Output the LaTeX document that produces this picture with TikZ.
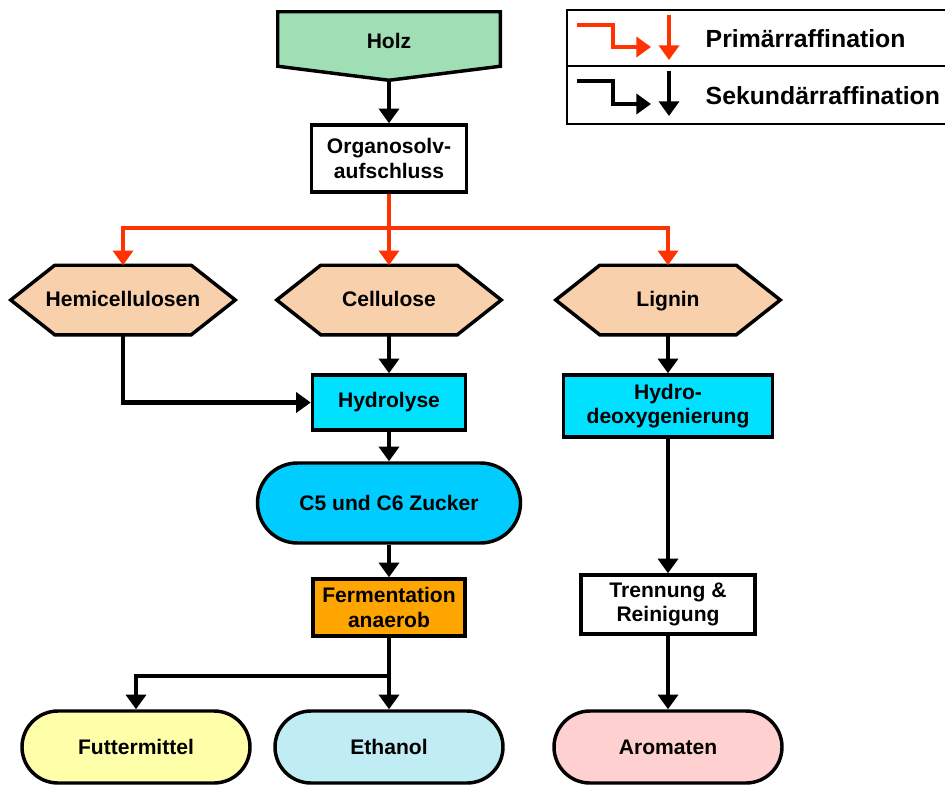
\documentclass[tikz,border=0pt]{standalone}
\usepackage{fontspec}
\setmainfont{Liberation Sans}
\usetikzlibrary{arrows.meta,calc}
\definecolor{holzgreen}{RGB}{160,223,181}
\definecolor{peach}{RGB}{248,208,172}
\definecolor{cyanbox}{RGB}{0,224,255}
\definecolor{sugarblue}{RGB}{0,204,255}
\definecolor{fermorange}{RGB}{255,165,0}
\definecolor{feedyellow}{RGB}{255,255,170}
\definecolor{ethblue}{RGB}{192,236,244}
\definecolor{aromapink}{RGB}{255,208,208}
\definecolor{primred}{RGB}{255,51,0}
\begin{document}
\begin{tikzpicture}[x=0.75pt,y=-0.75pt,
  font=\bfseries\fontsize{15.8}{18.5}\selectfont,
  box/.style={draw, line width=2.6pt, align=center, inner sep=0pt},
  stadium/.style={box, minimum width=171pt, minimum height=54pt, rounded corners=27pt},
  slot/.style={align=center, inner sep=0pt},
  label text/.style={inner sep=0pt, text height=11.5pt, text depth=3.2pt},
  outline/.style={draw, line width=2.6pt, line join=miter},
  link/.style={line width=3.3pt},
  flow/.style={link, -{Triangle[width=15pt,length=11pt]}},
  rlink/.style={link, draw=primred},
  rflow/.style={flow, draw=primred},
  legtext/.style={anchor=west, font=\bfseries\fontsize{18.6}{21}\selectfont}]
\useasboundingbox (0,0) rectangle (945,785);

% raw material: pentagon pointing down
\node[slot, minimum width=166.5pt, minimum height=51pt] (holz) at (389,46) {};
\path[outline, fill=holzgreen] (holz.north west) -- (holz.north east)
  -- ($(holz.south east)+(0,-14)$) -- (holz.south) -- ($(holz.south west)+(0,-14)$) -- cycle;
\node[label text] (holzlabel) at (389,43) {Holz};

\node[box, fill=white, minimum width=116.25pt, minimum height=50.25pt] (org) at (389,158.5) {Organosolv-\\aufschluss};

% fractions: hexagons
\foreach \n/\x/\t in {hemi/123/Hemicellulosen, cell/389/Cellulose, lig/668/Lignin}{
  \node[slot, minimum width=168pt, minimum height=51.75pt] (\n) at (\x,300) {};
  \path[outline, fill=peach] (\n.west) -- ($(\n.north west)+(44,0)$) -- ($(\n.north east)+(-44,0)$)
    -- (\n.east) -- ($(\n.south east)+(-44,0)$) -- ($(\n.south west)+(44,0)$) -- cycle;
  \node[label text] (\n label) at (\x,301) {\t};
}

\node[box, fill=cyanbox, minimum width=114.75pt, minimum height=41.25pt] (hyd) at (389,402.5) {Hydrolyse};
\node[box, fill=cyanbox, minimum width=156.75pt, minimum height=46.5pt] (hdo) at (668,406) {Hydro-\\deoxygenierung};
\node[box, fill=sugarblue, minimum width=197.25pt, minimum height=60pt, rounded corners=30pt] (zuck) at (389,503) {C5 und C6 Zucker};
\node[box, fill=fermorange, minimum width=114pt, minimum height=42.75pt] (ferm) at (389,607.5) {Fermentation\\anaerob};
\node[box, fill=white, minimum width=130.5pt, minimum height=44.25pt] (tren) at (668,604.5) {Trennung \&\\Reinigung};

\node[stadium, fill=feedyellow] (fut) at (136,747) {Futtermittel};
\node[stadium, fill=ethblue] (eth) at (389,747) {Ethanol};
\node[stadium, fill=aromapink] (aro) at (668,747) {Aromaten};

% primary refining
\draw[flow] (holz.south) -- (org.north);
\coordinate (rj) at (389,228);
\draw[rlink] (org.south) -- (rj);
\draw[rflow] (rj) -| (hemi.north);
\draw[rflow] (rj) -- (cell.north);
\draw[rflow] (rj) -| (lig.north);

% secondary refining
\draw[flow] (hemi.south) |- (hyd.west);
\draw[flow] (cell.south) -- (hyd.north);
\draw[flow] (hyd.south) -- (zuck.north);
\draw[flow] (zuck.south) -- (ferm.north);
\coordinate (fj) at (389,676);
\draw[link] (ferm.south) -- (fj);
\draw[flow] (fj) -| (fut.north);
\draw[flow] (fj) -- (eth.north);
\draw[flow] (lig.south) -- (hdo.north);
\draw[flow] (hdo.south) -- (tren.north);
\draw[flow] (tren.south) -- (aro.north);

% legend
\node[draw, line width=1.5pt, minimum width=286.5pt, minimum height=42pt, inner sep=0pt] (leg1) at (757.5,38) {};
\node[draw, line width=1.5pt, minimum width=286.5pt, minimum height=43.5pt, inner sep=0pt] (leg2) at (757.5,95) {};
\coordinate (ra) at (577,25); \coordinate (rb) at (651,47);
\coordinate (rc) at (669,15); \coordinate (rd) at (669,60);
\draw[rflow] (ra) -| ($(rb)+(-38,0)$) -- (rb);
\draw[rflow] (rc) -- (rd);
\coordinate (ka) at (577,81); \coordinate (kb) at (651,104);
\coordinate (kc) at (669,71); \coordinate (kd) at (669,116);
\draw[flow] (ka) -| ($(kb)+(-38,0)$) -- (kb);
\draw[flow] (kc) -- (kd);
\node[legtext] (lt1) at (701,39) {Primärraffination};
\node[legtext] (lt2) at (701,96) {Sekundärraffination};
\end{tikzpicture}
\end{document}
